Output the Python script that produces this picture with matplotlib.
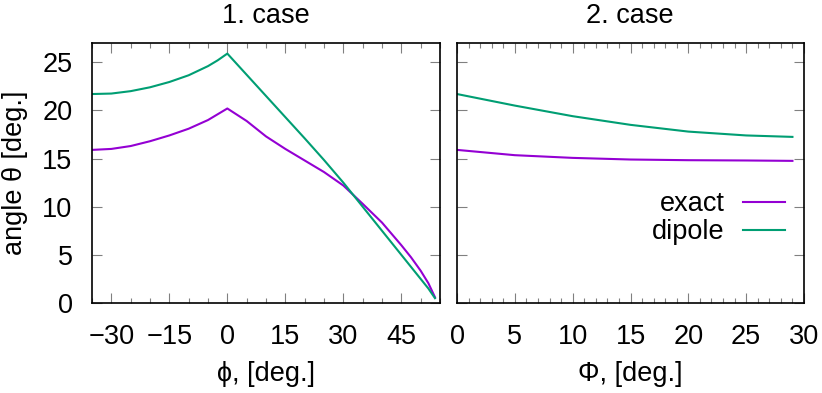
import matplotlib
matplotlib.use("Agg")
import matplotlib.pyplot as plt
from matplotlib.ticker import MultipleLocator

plt.rcParams['font.family'] = ['Liberation Sans', 'DejaVu Sans']
plt.rcParams['font.size'] = 19.5

# case 1: angle theta vs phi
phi1 = [-35, -30, -25, -20, -15, -10, -5, -2.5, 0, 5, 10, 15, 20, 25, 30, 35, 40,
        45, 47.5, 50, 52, 53.7]
exact1 = [15.9, 16.0, 16.3, 16.8, 17.4, 18.1, 19.0, 19.6, 20.2, 18.9, 17.3, 16.0, 14.8,
          13.6, 12.2, 10.3, 8.35, 6.0, 4.75, 3.35, 2.05, 0.6]
dipole1 = [21.7, 21.75, 22.0, 22.4, 22.95, 23.65, 24.6, 25.2, 25.9, 23.7, 21.5, 19.3,
           17.1, 14.85, 12.5, 10.0, 7.5, 5.0, 3.75, 2.5, 1.5, 0.5]

# case 2: angle theta vs Phi
phi2 = [0, 5, 10, 15, 20, 25, 29]
exact2 = [15.9, 15.35, 15.07, 14.9, 14.83, 14.8, 14.76]
dipole2 = [21.7, 20.5, 19.4, 18.5, 17.8, 17.4, 17.25]

purple = '#9400d3'
green = '#009e73'

W, H = 822, 393
fig = plt.figure(figsize=(W / 100, H / 100), dpi=100)

def px_axes(x0, x1, ytop, ybot):
    return fig.add_axes([x0 / W, 1 - ybot / H, (x1 - x0) / W, (ybot - ytop) / H])

ax1 = px_axes(92, 440, 43, 303)
ax2 = px_axes(457, 804, 43, 303)

for ax in (ax1, ax2):
    for s in ax.spines.values():
        s.set_linewidth(1.2)
        s.set_color('black')
    ax.tick_params(which='both', direction='in', top=True, right=True,
                   color='#808080', width=0.8)
    ax.tick_params(which='major', length=7.2)
    ax.tick_params(which='minor', length=3.6)
    ax.tick_params(axis='x', pad=15)
    ax.tick_params(axis='y', pad=14)
    ax.set_ylim(0, 27)
    ax.yaxis.set_major_locator(MultipleLocator(5))

ax1.plot(phi1, exact1, color=purple, lw=1.5, label='exact')
ax1.plot(phi1, dipole1, color=green, lw=1.5, label='dipole')
ax1.set_xlim(-35, 55)
ax1.xaxis.set_minor_locator(MultipleLocator(5))
ax1.set_xticks([-30, -15, 0, 15, 30, 45])
ax1.set_xticklabels(['\u221230', '\u221215', '0', '15', '30', '45'])

ax2.plot(phi2, exact2, color=purple, lw=1.5, label='exact')
ax2.plot(phi2, dipole2, color=green, lw=1.5, label='dipole')
ax2.set_xlim(0, 30)
ax2.xaxis.set_major_locator(MultipleLocator(5))
ax2.xaxis.set_minor_locator(MultipleLocator(1))
ax2.set_yticklabels([])

ax2.legend(loc='upper right', bbox_to_anchor=(785 / W, 1 - 191 / H),
           bbox_transform=fig.transFigure, frameon=False, markerfirst=False,
           borderpad=0, borderaxespad=0, handlelength=1.55, handletextpad=0.67,
           labelspacing=0.08)

# titles and axis labels
fig.text(266 / W, 1 - 23 / H, '1. case', ha='center', va='baseline')
fig.text(630 / W, 1 - 23 / H, '2. case', ha='center', va='baseline')
fig.text(266 / W, 1 - 381 / H, '\u03d5, [deg.]', ha='center', va='baseline')
fig.text(630 / W, 1 - 381 / H, '\u03a6, [deg.]', ha='center', va='baseline')
fig.text(15 / W, 1 - 173 / H, 'angle \u03b8 [deg.]', ha='center', va='center',
         rotation=90)

fig.savefig('out.png', dpi=100)
